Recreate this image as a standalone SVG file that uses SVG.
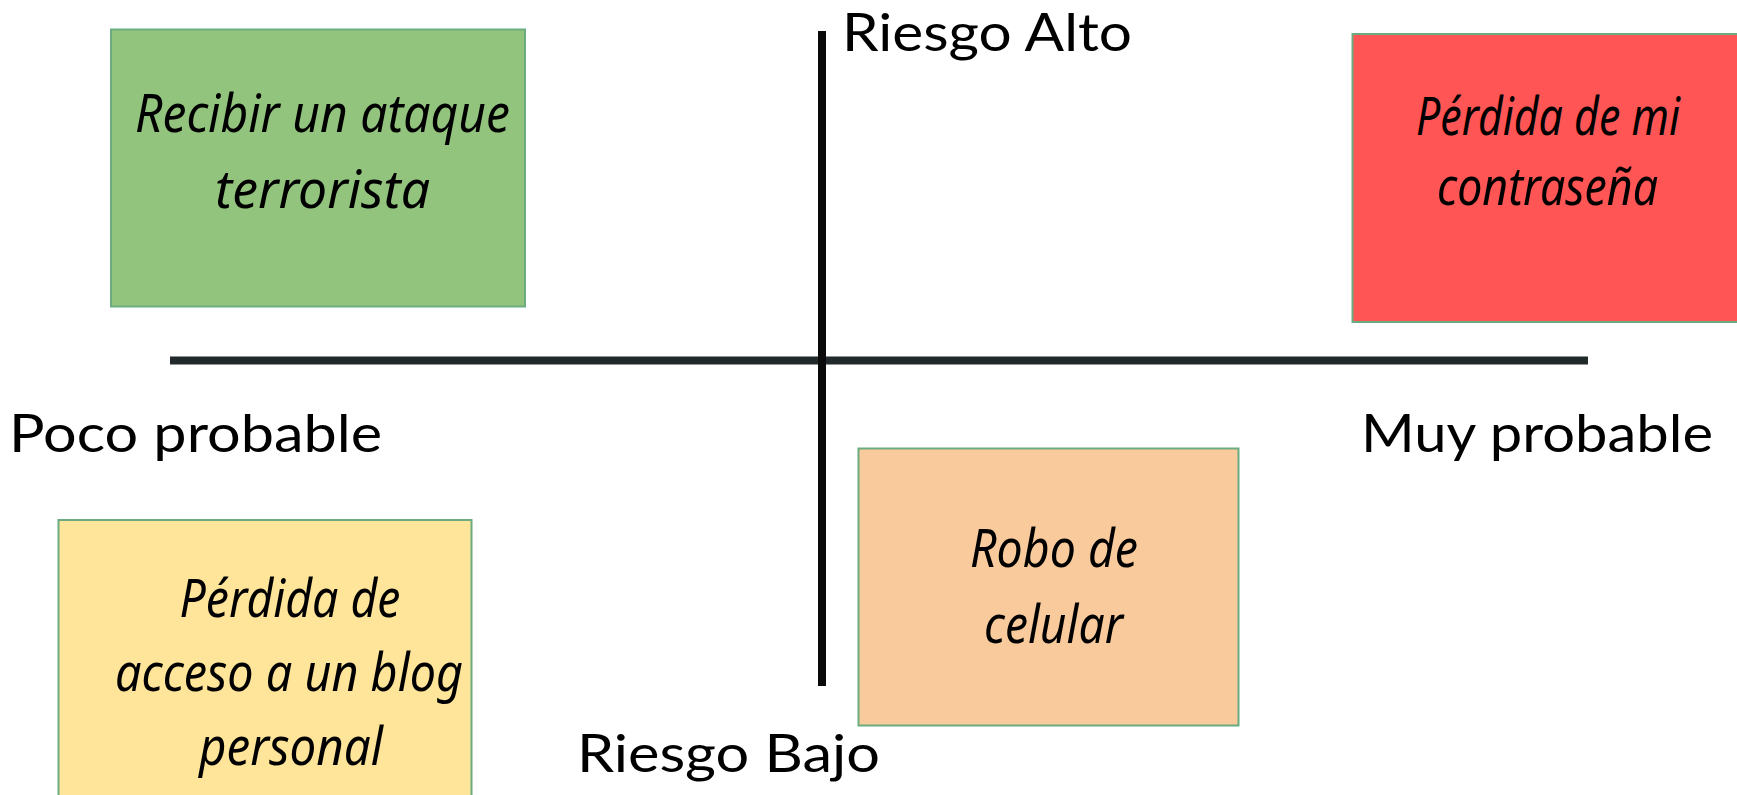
<svg xmlns="http://www.w3.org/2000/svg" width="1737" height="795" viewBox="0 0 1737 795">
<style>
.axis{font-family:"Lato","Open Sans","Liberation Sans",sans-serif;font-size:53px;fill:#000}
.note{stroke:#6aab80;stroke-width:2}
.hand{font-family:"Noto Sans","DejaVu Sans",sans-serif;font-style:italic;font-size:52px;fill:#000;text-anchor:middle}
</style>
<rect width="1737" height="795" fill="#fff"/>
<g id="connectors">
<line x1="170" y1="360.5" x2="1588" y2="360.5" stroke="#22292b" stroke-width="8"/>
<line x1="822" y1="31" x2="822" y2="686" stroke="#0a0a0a" stroke-width="8"/>
</g>
<g id="axis-labels">
<text class="axis" x="842" y="51" textLength="290" lengthAdjust="spacingAndGlyphs">Riesgo Alto</text>
<text class="axis" x="577" y="772" textLength="303" lengthAdjust="spacingAndGlyphs">Riesgo Bajo</text>
<text class="axis" x="9" y="452" textLength="373" lengthAdjust="spacingAndGlyphs">Poco probable</text>
<text class="axis" x="1361" y="452" textLength="352" lengthAdjust="spacingAndGlyphs">Muy probable</text>
</g>
<g id="node-terrorista">
<rect class="note" x="111" y="29.5" width="414" height="277" fill="#93c47d"/>
<text class="hand" x="322.5" y="132" textLength="375" lengthAdjust="spacingAndGlyphs">Recibir un ataque</text>
<text class="hand" x="322.5" y="208" textLength="215" lengthAdjust="spacingAndGlyphs">terrorista</text>
</g>
<g id="node-contrasena">
<rect class="note" x="1352.5" y="34" width="420" height="288" fill="#ff5555"/>
<text class="hand" x="1548" y="135" textLength="264" lengthAdjust="spacingAndGlyphs">Pérdida de mi</text>
<text class="hand" x="1547.5" y="205" textLength="221" lengthAdjust="spacingAndGlyphs">contraseña</text>
</g>
<g id="node-blog">
<rect class="note" x="58.5" y="520" width="413" height="300" fill="#ffe599"/>
<text class="hand" x="290" y="617" textLength="221" lengthAdjust="spacingAndGlyphs">Pérdida de</text>
<text class="hand" x="289" y="691" textLength="348" lengthAdjust="spacingAndGlyphs">acceso a un blog</text>
<text class="hand" x="291" y="765" textLength="184" lengthAdjust="spacingAndGlyphs">personal</text>
</g>
<g id="node-celular">
<rect class="note" x="858.5" y="448.5" width="380" height="277" fill="#f9cb9c"/>
<text class="hand" x="1054" y="567" textLength="168" lengthAdjust="spacingAndGlyphs">Robo de</text>
<text class="hand" x="1053.5" y="643" textLength="139" lengthAdjust="spacingAndGlyphs">celular</text>
</g>
</svg>
